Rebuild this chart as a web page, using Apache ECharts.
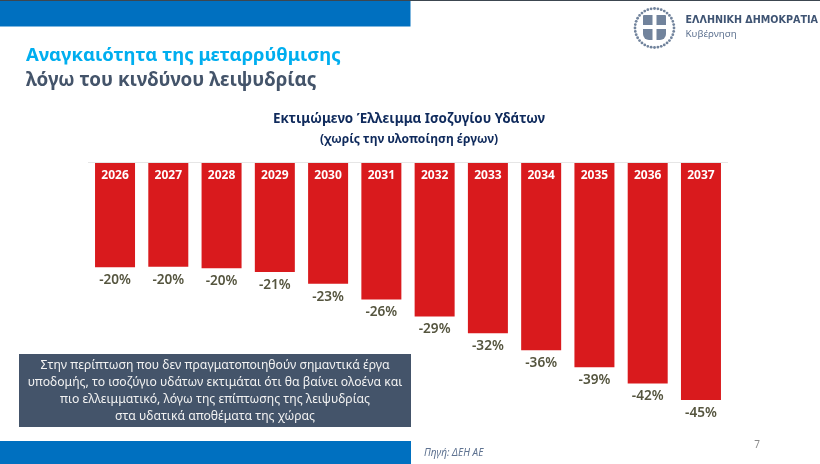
<!DOCTYPE html>
<html><head><meta charset="utf-8">
<style>html,body{margin:0;padding:0;background:#fff}#c{width:820px;height:464px}</style>
<script src="https://cdn.jsdelivr.net/npm/echarts@6/dist/echarts.min.js"></script>
</head><body><div id="c"></div>
<script>
const years = ['2026','2027','2028','2029','2030','2031','2032','2033','2034','2035','2036','2037'];
const deficit = [-19.9,-19.8,-20.1,-20.8,-23,-26,-29.2,-32.4,-35.6,-38.8,-41.9,-45];
const deficitLabels = ['-20%','-20%','-20%','-21%','-23%','-26%','-29%','-32%','-36%','-39%','-42%','-45%'];
const slideTitle = 'Αναγκαιότητα της μεταρρύθμισης';
const slideSubtitle = 'λόγω του κινδύνου λειψυδρίας';
const chartTitle = 'Εκτιμώμενο Έλλειμμα Ισοζυγίου Υδάτων';
const chartSubtitle = '(χωρίς την υλοποίηση έργων)';
const noteLines = 'Στην περίπτωση που δεν πραγματοποιηθούν σημαντικά έργα\nυποδομής, το ισοζύγιο υδάτων εκτιμάται ότι θα βαίνει ολοένα και\nπιο ελλειμματικό, λόγω της επίπτωσης της λειψυδρίας\nστα υδατικά αποθέματα της χώρας';
const F = '"DejaVu Sans","Noto Sans",sans-serif';
const N = '"Noto Sans",sans-serif';
const LOGO = '#71839c';
const chart = echarts.init(document.getElementById('c'), null, {renderer:'canvas'});
const ringDots = [];
for (let i = 0; i < 36; i++) {
  const a = i * Math.PI / 18;
  ringDots.push({type:'circle', silent:true,
    shape:{cx:654.5 + 19.5*Math.cos(a), cy:28 + 19.5*Math.sin(a), r:1.4},
    style:{fill:LOGO}});
}
chart.setOption({
  animation:false,
  backgroundColor:'#ffffff',
  grid:{left:88.4,right:92.4,top:162,height:238,containLabel:false},
  xAxis:{type:'category',data:years,position:'top',z:5,
    axisLine:{show:true,onZero:false,lineStyle:{color:'#e6e6e6',width:1}},
    axisTick:{show:false},
    axisLabel:{inside:true,margin:8,color:'#ffffff',fontFamily:N,fontSize:12,fontWeight:700}},
  yAxis:{type:'value',min:-45,max:0,show:false,splitLine:{show:false}},
  series:[{
    type:'bar',data:deficit,barWidth:40,
    itemStyle:{color:'#d91a1d'},
    label:{show:true,position:'bottom',distance:6,
      formatter:p=>deficitLabels[p.dataIndex],
      color:'#55553f',fontFamily:N,fontSize:13.6,fontWeight:600}
  }],
  graphic:[
    {type:'rect',silent:true,shape:{x:0,y:0,width:820,height:1},style:{fill:'#3c4650'}},
    {type:'rect',silent:true,shape:{x:0,y:1,width:410.5,height:25.5},style:{fill:'#0070c0'}},
    {type:'rect',silent:true,shape:{x:0,y:441,width:411,height:23},style:{fill:'#0070c0'}},
    {type:'rect',silent:true,shape:{x:19,y:354,width:392,height:73},style:{fill:'#44546a'}},
    {type:'text',silent:true,x:215,y:391.5,style:{text:noteLines,fill:'#f2f2f2',font:'12.2px '+N,align:'center',verticalAlign:'middle',lineHeight:17}},
    {type:'text',silent:true,x:26,y:55.5,style:{text:slideTitle,fill:'#00aeef',font:'700 18.5px '+N,verticalAlign:'middle'}},
    {type:'text',silent:true,x:26,y:80.5,style:{text:slideSubtitle,fill:'#44546a',font:'700 18.8px '+N,verticalAlign:'middle'}},
    {type:'text',silent:true,x:409,y:119,style:{text:chartTitle,fill:'#0f2a5c',font:'700 13.4px '+N,align:'center',verticalAlign:'middle'}},
    {type:'text',silent:true,x:409,y:140,style:{text:chartSubtitle,fill:'#0f2a5c',font:'700 12.1px '+N,align:'center',verticalAlign:'middle'}},
    {type:'text',silent:true,x:424,y:453,style:{text:'Πηγή: ΔΕΗ ΑΕ',fill:'#5f7391',font:'italic 10px '+N,verticalAlign:'middle'}},
    {type:'text',silent:true,x:757,y:445,style:{text:'7',fill:'#8a8a8a',font:'10px '+N,align:'center',verticalAlign:'middle'}},
    {type:'text',silent:true,x:685.5,y:20.5,style:{text:'ΕΛΛΗΝΙΚΗ ΔΗΜΟΚΡΑΤΙΑ',fill:'#3f5473',font:'700 9.6px '+F,verticalAlign:'middle'}},
    {type:'text',silent:true,x:685.5,y:34,style:{text:'Κυβέρνηση',fill:'#5f7391',font:'9.8px '+N,verticalAlign:'middle'}},
    ...ringDots,
    {type:'rect',silent:true,shape:{x:643,y:15,width:23,height:25,r:[1,1,6,6]},style:{fill:LOGO}},
    {type:'rect',silent:true,shape:{x:652.5,y:15,width:4,height:25},style:{fill:'#ffffff'}},
    {type:'rect',silent:true,shape:{x:643,y:25,width:23,height:4},style:{fill:'#ffffff'}}
  ]
});
</script></body></html>
